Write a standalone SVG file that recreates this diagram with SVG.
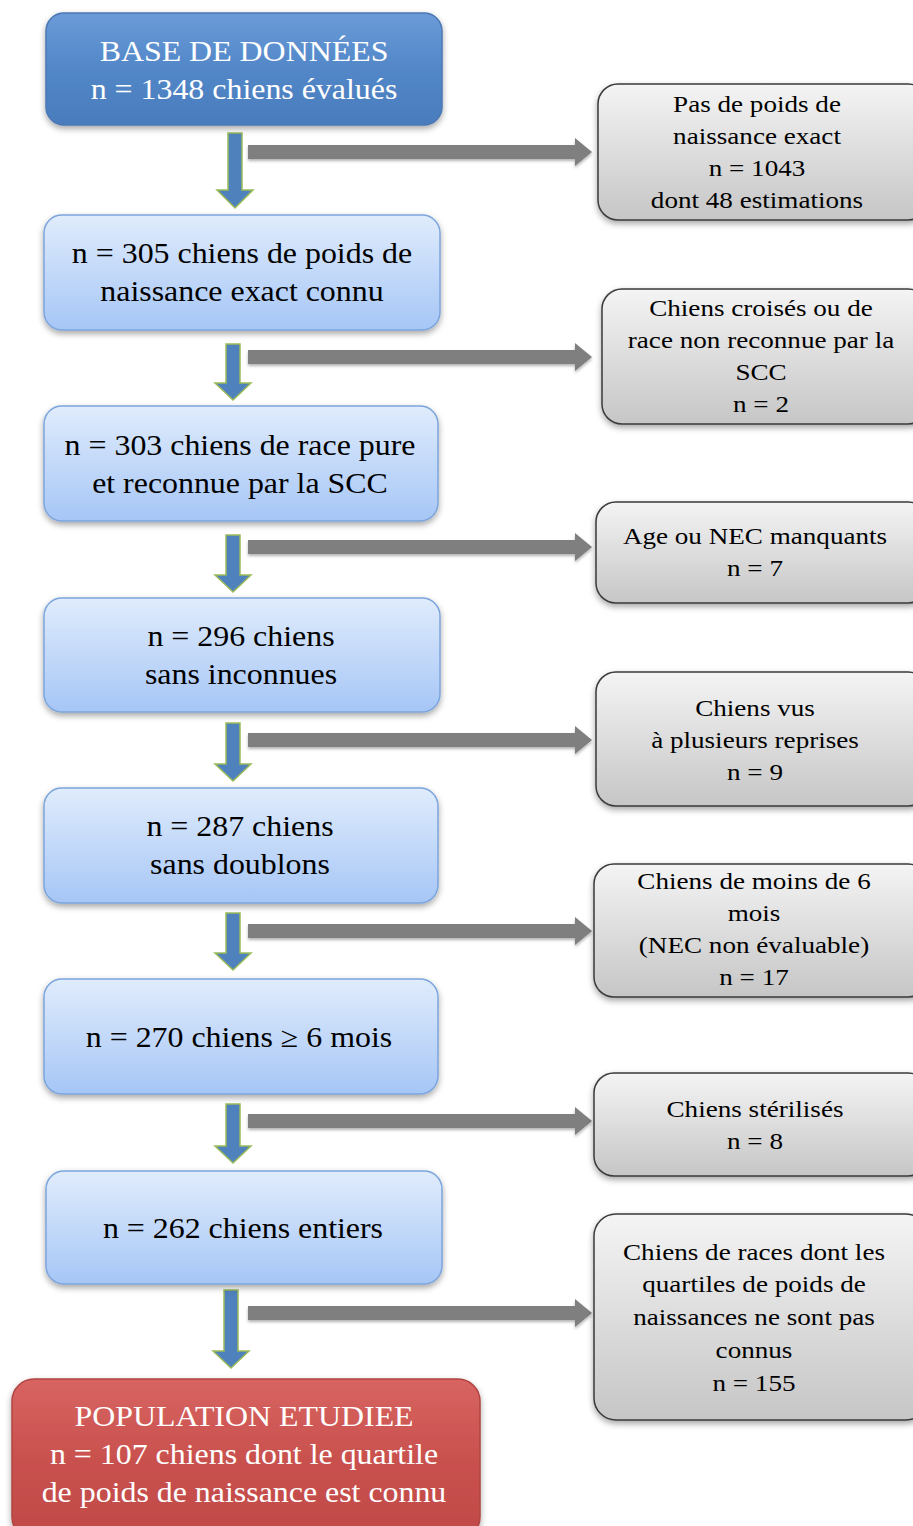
<svg xmlns="http://www.w3.org/2000/svg" width="913" height="1526" viewBox="0 0 913 1526">
<defs>
<linearGradient id="gBlue" x1="0" y1="0" x2="0" y2="1"><stop offset="0" stop-color="#6b9bd8"/><stop offset="0.5" stop-color="#5287c8"/><stop offset="1" stop-color="#4a7cbc"/></linearGradient>
<linearGradient id="gLight" x1="0" y1="0" x2="0" y2="1"><stop offset="0" stop-color="#e0ecfc"/><stop offset="1" stop-color="#a6c6f6"/></linearGradient>
<linearGradient id="gRed" x1="0" y1="0" x2="0" y2="1"><stop offset="0" stop-color="#d86461"/><stop offset="0.5" stop-color="#c9514e"/><stop offset="1" stop-color="#c04a47"/></linearGradient>
<linearGradient id="gGrey" x1="0" y1="0" x2="0" y2="1"><stop offset="0" stop-color="#f4f4f4"/><stop offset="1" stop-color="#c6c6c6"/></linearGradient>
<filter id="sh" x="-10%" y="-10%" width="120%" height="130%"><feDropShadow dx="0" dy="3" stdDeviation="3" flood-color="#000" flood-opacity="0.35"/></filter>
<filter id="sh2" x="-5%" y="-20%" width="110%" height="160%"><feDropShadow dx="0" dy="2" stdDeviation="1.5" flood-color="#000" flood-opacity="0.3"/></filter>
</defs>
<style>
.lb{fill:url(#gLight);stroke:#7ca5dc;stroke-width:1.5;filter:url(#sh)}
.db{fill:url(#gBlue);stroke:#4a78b4;stroke-width:1.5;filter:url(#sh)}
.rb{fill:url(#gRed);stroke:#b04542;stroke-width:1.5;filter:url(#sh)}
.gb{fill:url(#gGrey);stroke:#3a3a3a;stroke-width:1.5;filter:url(#sh)}
text{font-family:"Liberation Serif","Times New Roman",serif;text-anchor:middle}
.tl{font-size:29px;fill:#000}
.tw{font-size:29px;fill:#fff}
.tr{font-size:24px;fill:#000}
.da{fill:#4f81bd;stroke:#9bbb59;stroke-width:1.5}
.ga{fill:#7f7f7f;filter:url(#sh2)}
</style>

<g id="connectors">
<path class="da" d="M228,133 H242 V190 H253 L235,208 L217,190 H228 Z"/>
<path class="da" d="M226,344 H240 V383 H251 L233,400 L215,383 H226 Z"/>
<path class="da" d="M226,535 H240 V575 H251 L233,592 L215,575 H226 Z"/>
<path class="da" d="M226,723 H240 V764 H251 L233,781 L215,764 H226 Z"/>
<path class="da" d="M226,913 H240 V953 H251 L233,970 L215,953 H226 Z"/>
<path class="da" d="M226,1104 H240 V1146 H251 L233,1163 L215,1146 H226 Z"/>
<path class="da" d="M224,1290 H238 V1351 H249 L231,1368 L213,1351 H224 Z"/>
<path class="ga" d="M248,145 H575 V138 L592,152 L575,166 V159 H248 Z"/>
<path class="ga" d="M248,350 H575 V343 L592,357 L575,371 V364 H248 Z"/>
<path class="ga" d="M248,540 H575 V533 L592,547 L575,561 V554 H248 Z"/>
<path class="ga" d="M248,733 H575 V726 L592,740 L575,754 V747 H248 Z"/>
<path class="ga" d="M248,924 H575 V917 L592,931 L575,945 V938 H248 Z"/>
<path class="ga" d="M248,1114 H575 V1107 L592,1121 L575,1135 V1128 H248 Z"/>
<path class="ga" d="M248,1306 H575 V1299 L592,1313 L575,1327 V1320 H248 Z"/>
</g>

<g id="base">
<rect class="db" x="46" y="13" width="396" height="112" rx="18"/>
<g transform="translate(244,0) scale(1.1,1)">
<text class="tw" x="0" y="61">BASE DE DONNÉES</text>
<text class="tw" x="0" y="99">n = 1348 chiens évalués</text>
</g>
</g>
<g id="n305">
<rect class="lb" x="44" y="215" width="396" height="115" rx="18"/>
<g transform="translate(242,0) scale(1.1,1)">
<text class="tl" x="0" y="263">n = 305 chiens de poids de</text>
<text class="tl" x="0" y="301">naissance exact connu</text>
</g>
</g>
<g id="n303">
<rect class="lb" x="44" y="406" width="394" height="115" rx="18"/>
<g transform="translate(240,0) scale(1.1,1)">
<text class="tl" x="0" y="455">n = 303 chiens de race pure</text>
<text class="tl" x="0" y="493">et reconnue par la SCC</text>
</g>
</g>
<g id="n296">
<rect class="lb" x="44" y="598" width="396" height="114" rx="18"/>
<g transform="translate(241,0) scale(1.1,1)">
<text class="tl" x="0" y="646">n = 296 chiens</text>
<text class="tl" x="0" y="684">sans inconnues</text>
</g>
</g>
<g id="n287">
<rect class="lb" x="44" y="788" width="394" height="115" rx="18"/>
<g transform="translate(240,0) scale(1.1,1)">
<text class="tl" x="0" y="836">n = 287 chiens</text>
<text class="tl" x="0" y="874">sans doublons</text>
</g>
</g>
<g id="n270">
<rect class="lb" x="44" y="979" width="394" height="115" rx="18"/>
<g transform="translate(239,0) scale(1.1,1)">
<text class="tl" x="0" y="1047">n = 270 chiens ≥ 6 mois</text>
</g>
</g>
<g id="n262">
<rect class="lb" x="46" y="1171" width="396" height="113" rx="18"/>
<g transform="translate(243,0) scale(1.1,1)">
<text class="tl" x="0" y="1238">n = 262 chiens entiers</text>
</g>
</g>
<g id="population">
<rect class="rb" x="12" y="1379" width="468" height="160" rx="22"/>
<g transform="translate(244,0) scale(1.1,1)">
<text class="tw" x="0" y="1426">POPULATION ETUDIEE</text>
<text class="tw" x="0" y="1464">n = 107 chiens dont le quartile</text>
<text class="tw" x="0" y="1502">de poids de naissance est  connu</text>
</g>
</g>

<g id="ex1">
<rect class="gb" x="598" y="84" width="330" height="136" rx="20"/>
<g transform="translate(757,0) scale(1.13,1)">
<text class="tr" x="0" y="112">Pas de poids de</text>
<text class="tr" x="0" y="144">naissance exact</text>
<text class="tr" x="0" y="176">n = 1043</text>
<text class="tr" x="0" y="208">dont 48 estimations</text>
</g>
</g>
<g id="ex2">
<rect class="gb" x="602" y="289" width="326" height="135" rx="20"/>
<g transform="translate(761,0) scale(1.13,1)">
<text class="tr" x="0" y="316">Chiens croisés ou de</text>
<text class="tr" x="0" y="348">race non reconnue par la</text>
<text class="tr" x="0" y="380">SCC</text>
<text class="tr" x="0" y="412">n = 2</text>
</g>
</g>
<g id="ex3">
<rect class="gb" x="596" y="502" width="332" height="101" rx="20"/>
<g transform="translate(755,0) scale(1.13,1)">
<text class="tr" x="0" y="544">Age ou NEC manquants</text>
<text class="tr" x="0" y="576">n = 7</text>
</g>
</g>
<g id="ex4">
<rect class="gb" x="596" y="672" width="332" height="134" rx="20"/>
<g transform="translate(755,0) scale(1.13,1)">
<text class="tr" x="0" y="716">Chiens vus</text>
<text class="tr" x="0" y="748">à plusieurs reprises</text>
<text class="tr" x="0" y="780">n = 9</text>
</g>
</g>
<g id="ex5">
<rect class="gb" x="594" y="864" width="334" height="133" rx="20"/>
<g transform="translate(754,0) scale(1.13,1)">
<text class="tr" x="0" y="889">Chiens de moins de 6</text>
<text class="tr" x="0" y="921">mois</text>
<text class="tr" x="0" y="953">(NEC non évaluable)</text>
<text class="tr" x="0" y="985">n = 17</text>
</g>
</g>
<g id="ex6">
<rect class="gb" x="594" y="1073" width="334" height="103" rx="20"/>
<g transform="translate(755,0) scale(1.13,1)">
<text class="tr" x="0" y="1117">Chiens stérilisés</text>
<text class="tr" x="0" y="1149">n = 8</text>
</g>
</g>
<g id="ex7">
<rect class="gb" x="594" y="1214" width="334" height="206" rx="22"/>
<g transform="translate(754,0) scale(1.13,1)">
<text class="tr" x="0" y="1260">Chiens de races dont les</text>
<text class="tr" x="0" y="1292">quartiles de poids de</text>
<text class="tr" x="0" y="1325">naissances ne sont pas</text>
<text class="tr" x="0" y="1358">connus</text>
<text class="tr" x="0" y="1391">n = 155</text>
</g>
</g>
</svg>
